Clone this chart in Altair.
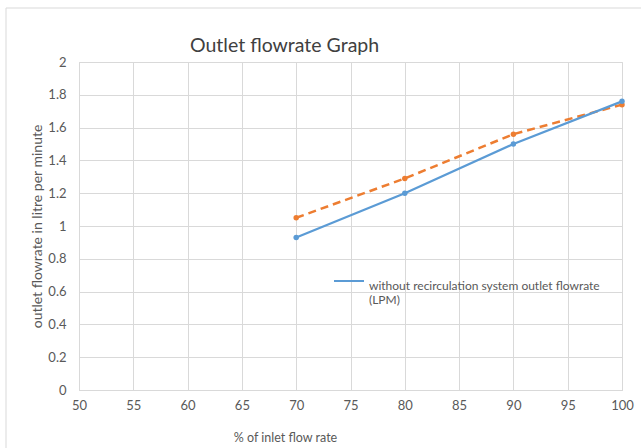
import altair as alt
import pandas as pd

inlet_pct = [70, 80, 90, 100]
without_recirc = [0.93, 1.20, 1.50, 1.76]
with_recirc = [1.05, 1.29, 1.56, 1.74]
x_ticks = [50, 55, 60, 65, 70, 75, 80, 85, 90, 95, 100]
y_ticks = [0, 0.2, 0.4, 0.6, 0.8, 1, 1.2, 1.4, 1.6, 1.8, 2]
blue_name = "without recirculation system outlet flowrate|(LPM)"
title_text = "Outlet flowrate Graph"

df_blue = pd.DataFrame({"x": inlet_pct, "y": without_recirc, "series": blue_name})
df_orange = pd.DataFrame({"x": inlet_pct, "y": with_recirc})

FONT = "Lato"
W, H = 543, 328

xs = alt.Scale(domain=[50, 100], nice=False)
ys = alt.Scale(domain=[0, 2], nice=False)

x_axis = alt.Axis(values=x_ticks, title="% of inlet flow rate", grid=True, gridColor="#D9D9D9",
                  domain=True, domainColor="#D9D9D9", ticks=False, labelPadding=9,
                  labelOverlap=False, labelFlush=False, labelColor="#595959", labelFontSize=13,
                  titleColor="#595959",
                  titleFontSize=12.5, titleFontWeight="normal", titleX=206, titleY=47,
                  titleAlign="center", titleBaseline="middle", labelFont=FONT, titleFont=FONT)
y_axis = alt.Axis(values=y_ticks, title="outlet flowrate in litre per minute", grid=True,
                  gridColor="#D9D9D9", domain=True, domainColor="#D9D9D9", ticks=False,
                  labelOverlap=False, labelFlush=False, labelExpr="format(datum.value, '~g')",
                  labelPadding=13, labelColor="#595959", labelFontSize=13, titleColor="#595959",
                  titleFontSize=14, titleFontWeight="normal", titleX=-42, titleY=164,
                  titleAlign="center", titleBaseline="middle", titleAngle=270,
                  labelFont=FONT, titleFont=FONT)

blue = alt.Chart(df_blue).mark_line(point=alt.OverlayMarkDef(size=30, filled=True), strokeWidth=2.2).encode(
    x=alt.X("x:Q", scale=xs, axis=x_axis),
    y=alt.Y("y:Q", scale=ys, axis=y_axis),
    color=alt.Color("series:N", scale=alt.Scale(domain=[blue_name], range=["#5B9BD5"]),
                    legend=alt.Legend(title=None, orient="none", legendX=254, legendY=203,
                                      symbolType="stroke", symbolSize=900, symbolStrokeWidth=2,
                                      labelExpr="split(datum.label, '|')", labelFont=FONT,
                                      labelFontSize=12, labelColor="#595959", labelLimit=400,
                                      labelBaseline="top", labelOffset=4)),
)

orange = alt.Chart(df_orange).mark_line(point=alt.OverlayMarkDef(size=30, filled=True, color="#ED7D31"),
                                        strokeWidth=2.5, strokeDash=[8, 5], color="#ED7D31").encode(
    x=alt.X("x:Q", scale=xs, axis=x_axis),
    y=alt.Y("y:Q", scale=ys, axis=y_axis),
)

one = pd.DataFrame({"t": [title_text]})
title_mark = alt.Chart(one).mark_text(font=FONT, fontSize=19.5, color="#404040", align="left",
                                      baseline="alphabetic").encode(
    text="t:N", x=alt.value(111), y=alt.value(-10))
border_top = alt.Chart(one).mark_rule(color="#D9D9D9", clip=False).encode(
    x=alt.value(-73), x2=alt.value(W + 30), y=alt.value(-54))
border_left = alt.Chart(one).mark_rule(color="#D9D9D9", clip=False).encode(
    x=alt.value(-73), y=alt.value(-54), y2=alt.value(H + 60))

chart = alt.layer(border_top, border_left, title_mark, orange, blue).properties(
    width=W, height=H,
    padding={"left": 79, "top": 62, "right": 19, "bottom": 58},
    autosize=alt.AutoSizeParams(type="none"),
).configure_view(stroke=None).configure(background="white")

chart.save("out.html", embed_options={"renderer": "svg", "actions": False})
